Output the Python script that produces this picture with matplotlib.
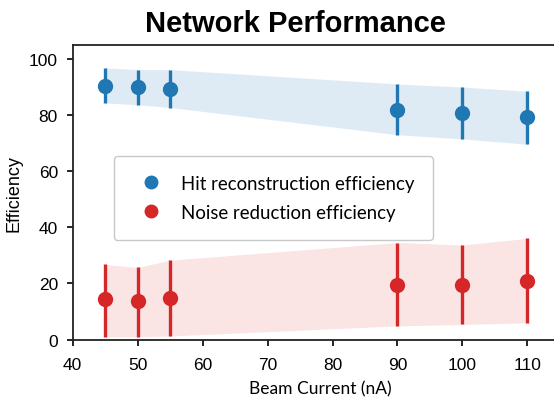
"""Network performance vs beam current: hit reconstruction and noise reduction
efficiency with their error bars and shaded uncertainty bands."""
import matplotlib
matplotlib.use("Agg")
import matplotlib.pyplot as plt
import numpy as np

beam_current = [45, 50, 55, 90, 100, 110]

hit_eff = [90.4, 89.9, 89.4, 81.9, 80.7, 79.2]
hit_lo = [84.3, 83.7, 82.7, 73.0, 71.5, 69.6]
hit_hi = [96.8, 96.2, 96.2, 91.1, 90.0, 88.5]

noise_eff = [14.3, 13.7, 14.9, 19.6, 19.6, 21.0]
noise_lo = [1.0, 1.0, 1.3, 4.9, 5.4, 6.0]
noise_hi = [26.8, 25.7, 28.3, 34.6, 33.7, 36.1]

SERIES = [
    ("Hit reconstruction efficiency", hit_eff, hit_lo, hit_hi, "#1f77b4", 0.14),
    ("Noise reduction efficiency", noise_eff, noise_lo, noise_hi, "#d62728", 0.12),
]

LABEL_FONT = ["Lato", "DejaVu Sans"]
plt.rcParams["font.family"] = ["Liberation Sans", "DejaVu Sans"]

fig = plt.figure(figsize=(5.54, 4.06), dpi=100)
# axes run past the right edge of the canvas; only left/bottom/top spines show
ax = fig.add_axes([0.131, 0.161, 0.895, 0.7259])

x = np.array(beam_current)
for name, y, lo, hi, color, alpha in SERIES:
    y, lo, hi = np.array(y), np.array(lo), np.array(hi)
    ax.fill_between(x, lo, hi, color=color, alpha=alpha, linewidth=0)
    ax.errorbar(x, y, yerr=[y - lo, hi - y], fmt="o", color=color,
                markersize=10, elinewidth=2.4, capsize=0, label=name)

ax.set_xlim(40, 116.3)
ax.set_ylim(0, 105)
ax.set_xticks(range(40, 111, 10))
ax.set_yticks(range(0, 101, 20))

for side in ("left", "bottom", "top"):
    ax.spines[side].set_linewidth(1.3)
    ax.spines[side].set_color("#222222")
ax.spines["right"].set_visible(False)

ax.tick_params(axis="both", length=4.5, width=1.2, labelsize=12.5)
ax.tick_params(axis="x", pad=8)
ax.tick_params(axis="y", pad=6)

ax.set_xlabel("Beam Current (nA)", fontsize=12.5, family=LABEL_FONT, labelpad=6)
ax.set_ylabel("Efficiency", fontsize=13, labelpad=5)

handles, labels = ax.get_legend_handles_labels()
handles = [h[0] for h in handles]
leg = ax.legend(handles, labels, loc="upper left", bbox_to_anchor=(0.083, 0.623),
                borderaxespad=0, frameon=True, fancybox=True,
                prop={"family": LABEL_FONT, "size": 13.4},
                handletextpad=0.6, borderpad=1.0, labelspacing=0.66,
                markerscale=0.9)
leg.get_frame().set_edgecolor("#bbbbbb")
leg.get_frame().set_linewidth(1.0)

fig.text(0.534, 0.941, "Network Performance", ha="center", va="center",
         fontsize=21, fontweight="bold")

fig.savefig("out.png", dpi=100)
